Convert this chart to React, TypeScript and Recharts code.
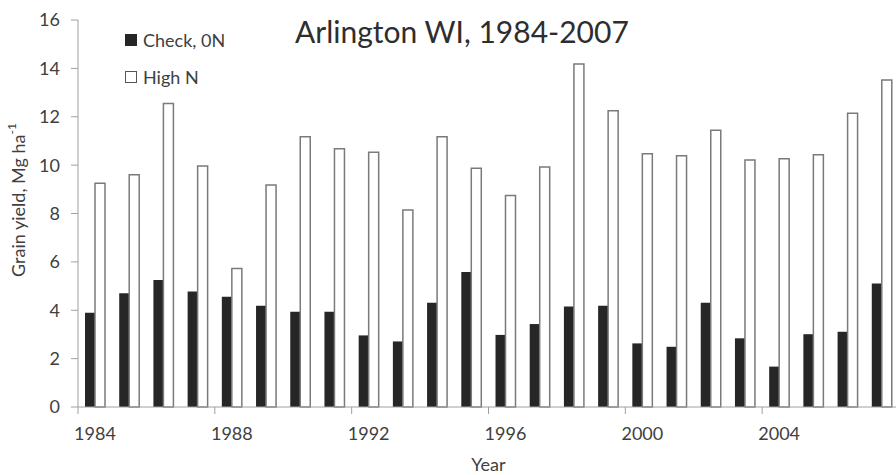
import React from "react";
import { BarChart, Bar, XAxis, YAxis, Legend, Label } from "recharts";

// grain yield, Mg/ha
const years = [
  1984, 1985, 1986, 1987, 1988, 1989, 1990, 1991, 1992, 1993, 1994, 1995,
  1996, 1997, 1998, 1999, 2000, 2001, 2002, 2003, 2004, 2005, 2006, 2007,
];
const checkN = [
  3.9, 4.7, 5.25, 4.78, 4.56, 4.19, 3.94, 3.94, 2.96, 2.71, 4.31, 5.58,
  2.98, 3.43, 4.15, 4.19, 2.63, 2.49, 4.31, 2.84, 1.67, 3.01, 3.11, 5.11,
];
const highN = [
  9.25, 9.6, 12.55, 9.96, 5.73, 9.18, 11.17, 10.68, 10.53, 8.14, 11.17, 9.87,
  8.74, 9.92, 14.18, 12.25, 10.47, 10.39, 11.44, 10.21, 10.26, 10.43, 12.14, 13.52,
];
const yTicks = [0, 2, 4, 6, 8, 10, 12, 14, 16];
const xTicks = [1984, 1988, 1992, 1996, 2000, 2004];

// each year is a band [year, year+1]; bars sit in the middle of it
const data = years.map((year, i) => ({
  year,
  mid: year + 0.5,
  check: checkN[i],
  high: highN[i],
}));

const FONT = "Lato, 'Open Sans', sans-serif";
const TEXT = "#404040";
const AXIS = "#a0a0a0";

const LegendBox = () => (
  <div style={{ fontFamily: FONT, fontSize: 18, color: TEXT }}>
    <div style={{ display: "flex", alignItems: "center", height: 37 }}>
      <span style={{ width: 12, height: 12, background: "#262626", marginRight: 6 }} />
      Check, 0N
    </div>
    <div style={{ display: "flex", alignItems: "center", height: 37 }}>
      <span
        style={{
          width: 10,
          height: 10,
          background: "#fff",
          border: "1px solid #555",
          marginRight: 6,
        }}
      />
      High N
    </div>
  </div>
);

const YTitle = () => (
  <text
    x={18}
    y={200}
    transform="rotate(-90 18 200)"
    textAnchor="middle"
    dominantBaseline="central"
    fill={TEXT}
    fontSize={18}
    fontFamily={FONT}
  >
    Grain yield, Mg ha
    <tspan fontSize={12} dy={-7}>
      -1
    </tspan>
  </text>
);

export default function App() {
  return (
    <div
      style={{
        position: "absolute",
        left: 0,
        top: 0,
        width: 896,
        height: 475,
        overflow: "hidden",
        background: "#fff",
        fontFamily: FONT,
      }}
    >
      <BarChart
        width={900}
        height={475}
        data={data}
        margin={{ top: 20, right: 1, left: 0, bottom: 0 }}
        barGap={0}
        style={{ fontFamily: FONT }}
      >
        <XAxis
          dataKey="mid"
          type="number"
          domain={[1984, 2008]}
          ticks={xTicks}
          height={68}
          stroke={AXIS}
          tickSize={7}
          tickMargin={13}
          tick={{ fill: TEXT, fontSize: 18, dx: 17 }}
        >
          <Label value="Year" position="insideBottom" offset={4} fill={TEXT} fontSize={18} />
        </XAxis>
        <YAxis
          domain={[0, 16]}
          ticks={yTicks}
          width={78}
          stroke={AXIS}
          tickSize={7}
          tickMargin={11}
          tick={{ fill: TEXT, fontSize: 18 }}
        >
          <Label content={<YTitle />} />
        </YAxis>
        <Legend
          layout="horizontal"
          verticalAlign="middle"
          align="center"
          content={<LegendBox />}
          wrapperStyle={{ left: 125, top: 21, width: "auto", height: "auto" }}
        />
        <Bar dataKey="check" name="Check, 0N" fill="#262626" barSize={10} isAnimationActive={false} />
        <Bar
          dataKey="high"
          name="High N"
          fill="#ffffff"
          stroke="#7a7a7a"
          strokeWidth={1.5}
          barSize={10}
          isAnimationActive={false}
        />
      </BarChart>
      <div
        style={{
          position: "absolute",
          left: 295,
          top: 16,
          fontSize: 30,
          lineHeight: "30px",
          color: "#2e2e2e",
          whiteSpace: "nowrap",
        }}
      >
        Arlington WI, 1984-2007
      </div>
    </div>
  );
}
